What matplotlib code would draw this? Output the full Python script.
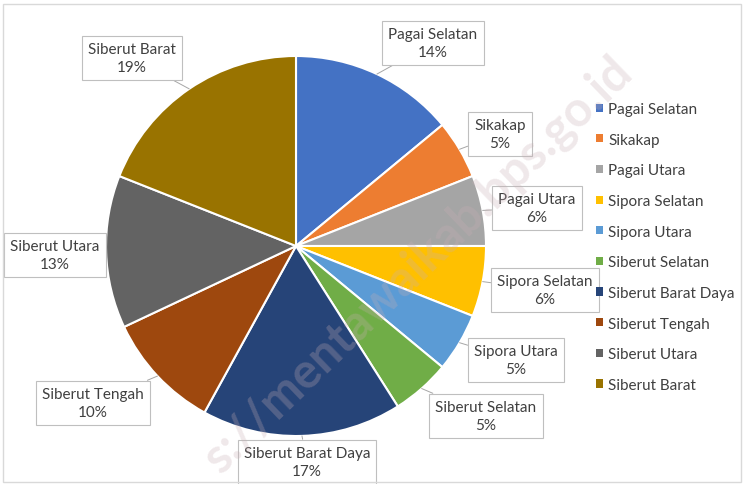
import numpy as np
import matplotlib
matplotlib.use("Agg")
import matplotlib.pyplot as plt

categories = ["Pagai Selatan", "Sikakap", "Pagai Utara", "Sipora Selatan", "Sipora Utara",
              "Siberut Selatan", "Siberut Barat Daya", "Siberut Tengah", "Siberut Utara", "Siberut Barat"]
shares = [14, 5, 6, 6, 5, 5, 17, 10, 13, 19]
colors = ["#4472C4", "#ED7D31", "#A5A5A5", "#FFC000", "#5B9BD5",
          "#70AD47", "#264478", "#9E480E", "#636363", "#997300"]
# label box centres (pixel coords, y from bottom)
label_pos = [(433, 441), (500, 350), (537, 276), (545, 194), (516, 124),
             (486, 68), (307, 22), (93, 81), (55, 229), (132, 426)]

plt.rcParams['font.family'] = ['Lato', 'DejaVu Sans']

W, H = 744, 485
fig = plt.figure(figsize=(W / 100, H / 100), dpi=100)
ax = fig.add_axes([0, 0, 1, 1])

cx, cy, r = 296, 238, 190
wedges, _ = ax.pie(shares, colors=colors, startangle=90, counterclock=False,
                   center=(cx, cy), radius=r,
                   wedgeprops=dict(edgecolor='white', linewidth=1.5))
ax.set_xlim(0, W)
ax.set_ylim(0, H)
ax.set_aspect('equal')
ax.axis('off')

for w, name, val, (lx, ly) in zip(wedges, categories, shares, label_pos):
    mid = np.deg2rad((w.theta1 + w.theta2) / 2)
    px, py = cx + r * np.cos(mid), cy + r * np.sin(mid)
    ax.annotate(f"{name}\n{val}%", xy=(px, py), xytext=(lx, ly),
                ha='center', va='center', fontsize=11, color='#404040',
                linespacing=1.4, zorder=5,
                bbox=dict(boxstyle='square,pad=0.4', fc='white', ec='#BFBFBF', lw=0.8),
                arrowprops=dict(arrowstyle='-', color='#A6A6A6', lw=0.7,
                                shrinkA=0, shrinkB=0))

leg = ax.legend(wedges, categories, loc='upper left', bbox_to_anchor=(590 / W, 1 - 97 / H),
                frameon=False, fontsize=11, handlelength=0.45, handleheight=0.45,
                handletextpad=0.35, labelspacing=1.09, borderaxespad=0)
for t in leg.get_texts():
    t.set_color('#404040')
for h in leg.legend_handles:
    h.set_edgecolor('none')

# watermark
ax.text(418, 220, "s://mentawaikab.bps.go.id", rotation=44, ha='center', va='center',
        fontsize=35, fontweight='bold', color='#C8AEB4', alpha=0.28, zorder=6)

# chart border
fig.patches.append(plt.Rectangle((0.004, 0.004), 0.992, 0.985, transform=fig.transFigure,
                                 fill=False, ec='#D9D9D9', lw=1))

fig.savefig("out.png", dpi=100, facecolor='white')
